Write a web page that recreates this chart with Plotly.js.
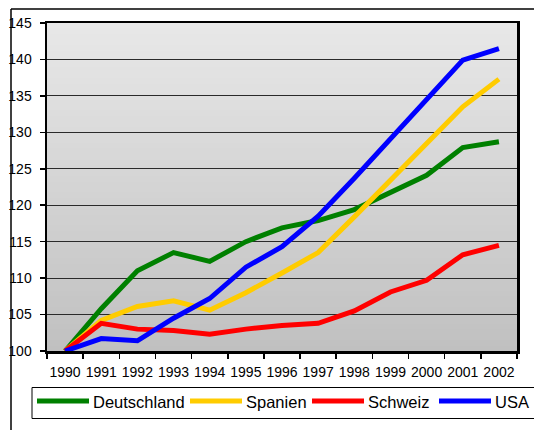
<!DOCTYPE html>
<html>
<head>
<meta charset="utf-8">
<script src="https://cdn.plot.ly/plotly-3.0.1.min.js"></script>
<style>html,body{margin:0;padding:0;background:#fff;}#chart{width:534px;height:430px;}</style>
</head>
<body>
<div id="chart"></div>
<script>
const years = ['1990','1991','1992','1993','1994','1995','1996','1997','1998','1999','2000','2001','2002'];
const deutschland = [100, 105.8, 111.0, 113.5, 112.3, 115.0, 116.9, 117.9, 119.4, 121.7, 124.1, 127.9, 128.7];
const spanien     = [100, 104.2, 106.1, 106.9, 105.6, 108.0, 110.7, 113.5, 118.4, 123.4, 128.5, 133.5, 137.3];
const schweiz     = [100, 103.8, 103.0, 102.8, 102.3, 103.0, 103.5, 103.8, 105.5, 108.1, 109.7, 113.2, 114.5];
const usa         = [100, 101.7, 101.4, 104.5, 107.2, 111.5, 114.3, 118.5, 123.7, 129.1, 134.5, 139.9, 141.5];
const seriesNames = ['Deutschland', 'Spanien', 'Schweiz', 'USA'];
const seriesColors = ['#008000', '#FFCC00', '#FF0000', '#0000FF'];
const seriesValues = [deutschland, spanien, schweiz, usa];

const W = 534, H = 430;
const M = {l: 47, r: 17, t: 23, b: 79};
const PW = W - M.l - M.r, PH = H - M.t - M.b;
const px2x = p => (p - M.l) / PW;
const py2y = p => (H - M.b - p) / PH;

const traces = seriesValues.map((vals, i) => ({
  type: 'scatter', mode: 'lines', x: years, y: vals, name: seriesNames[i],
  line: {color: seriesColors[i], width: 5}, cliponaxis: false, hoverinfo: 'skip'
}));

const shapes = [];
// gradient plot background
const N = 60;
for (let i = 0; i < N; i++) {
  const t = (i + 0.5) / N;
  const c = Math.round(192 + (232 - 192) * t);
  const col = `rgb(${c},${c},${c})`;
  shapes.push({type: 'rect', xref: 'paper', yref: 'paper', x0: 0, x1: 1,
    y0: i / N, y1: Math.min(1, (i + 1) / N + 0.004), fillcolor: col, line: {width: 0}, layer: 'below'});
}
// outer chart frame (top and left edges)
shapes.push({type: 'line', xref: 'paper', yref: 'paper', x0: px2x(11), x1: px2x(540), y0: py2y(9), y1: py2y(9), line: {color: '#000', width: 1.5}});
shapes.push({type: 'line', xref: 'paper', yref: 'paper', x0: px2x(11), x1: px2x(11), y0: py2y(9), y1: py2y(440), line: {color: '#000', width: 1.5}});
// legend box
shapes.push({type: 'rect', xref: 'paper', yref: 'paper', x0: px2x(32), x1: px2x(545), y0: py2y(387.5), y1: py2y(418.5), line: {color: '#000', width: 1}, fillcolor: 'rgba(0,0,0,0)'});

const legendStarts = [37, 190, 312, 439];
const legendY = 401;
const annotations = [];
seriesNames.forEach((nm, i) => {
  const x0 = legendStarts[i], x1 = x0 + 52;
  shapes.push({type: 'line', xref: 'paper', yref: 'paper', x0: px2x(x0), x1: px2x(x1), y0: py2y(legendY), y1: py2y(legendY),
    line: {color: seriesColors[i], width: 5}});
  annotations.push({xref: 'paper', yref: 'paper', x: px2x(x1 + 2), y: py2y(legendY + 1), xanchor: 'left', yanchor: 'middle',
    text: nm, showarrow: false, font: {family: 'Liberation Sans, Arial, sans-serif', size: 16.5, color: '#000'}});
});

const layout = {
  width: W, height: H, margin: M,
  paper_bgcolor: '#ffffff', plot_bgcolor: 'rgba(0,0,0,0)',
  showlegend: false,
  font: {family: 'Liberation Sans, Arial, sans-serif', color: '#000'},
  xaxis: {
    type: 'category', range: [-0.5, 12.5], tickson: 'boundaries', ticks: 'outside', ticklen: 5, tickwidth: 1.5, tickcolor: '#000',
    showgrid: false, showline: true, linecolor: '#000', linewidth: 2.5, mirror: true, tickangle: 0, automargin: false,
    tickfont: {size: 14, color: '#000'}, ticklabelstandoff: 7, fixedrange: true
  },
  yaxis: {
    range: [100, 145], dtick: 5, tick0: 100, ticks: 'outside', ticklen: 5, tickwidth: 1.5, tickcolor: '#000',
    showgrid: true, gridcolor: '#2a2a2a', gridwidth: 1, zeroline: false,
    showline: true, linecolor: '#000', linewidth: 2.5, mirror: true, automargin: false,
    tickfont: {size: 14, color: '#000'}, ticklabelstandoff: 5, fixedrange: true
  },
  shapes: shapes,
  annotations: annotations
};

Plotly.newPlot('chart', traces, layout, {displayModeBar: false, staticPlot: true});
</script>
</body>
</html>
